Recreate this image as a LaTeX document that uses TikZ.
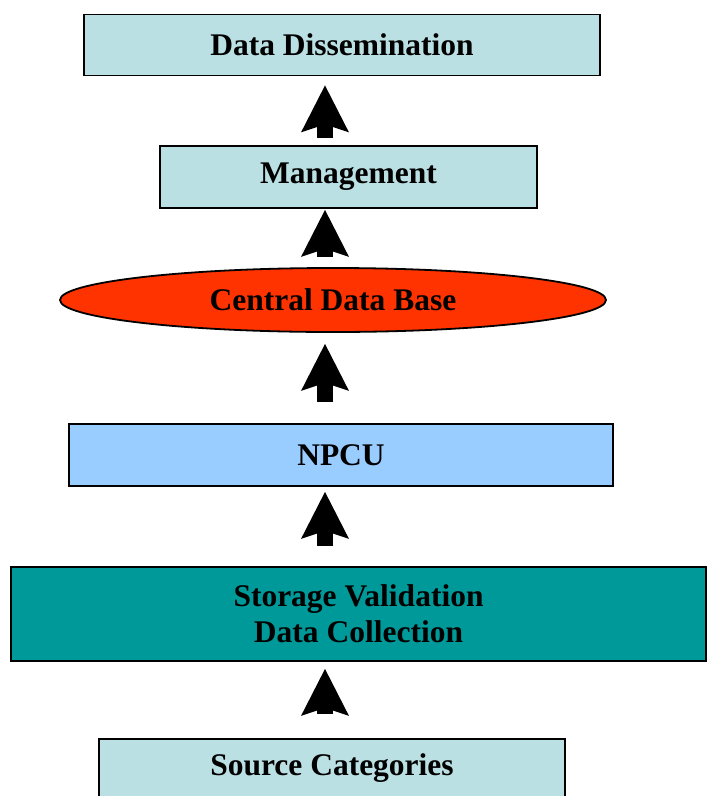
\documentclass[tikz,border=0pt]{standalone}
\usepackage{fontspec}
\setmainfont{Liberation Serif}
\usetikzlibrary{shapes.geometric,arrows.meta}

\definecolor{paleblue}{HTML}{BBE0E3}
\definecolor{skyblue}{HTML}{99CCFF}
\definecolor{tealbox}{HTML}{009999}
\definecolor{redoval}{HTML}{FF3300}

\tikzset{
	label text/.style={font=\fontsize{31.5}{36}\selectfont\bfseries, text=black, align=center},
	level box/.style={draw=black, line width=1.8pt, rectangle, inner sep=0pt, label text},
	level oval/.style={draw=black, line width=1.8pt, ellipse, inner sep=0pt, label text},
	up arrow/.style={line width=16pt, -{Stealth[length=47pt, width=48pt, inset=8pt, line width=0pt]}}}

\begin{document}
\begin{tikzpicture}[x=1pt,y=1pt,yscale=-1,xscale=1]
	\useasboundingbox (0,0) rectangle (707,796);

	%Shape: Rectangle [id:diss]
	\node[level box, fill=paleblue, minimum width=516, minimum height=61] (diss) at (342,45) {Data Dissemination};
	%Shape: Rectangle [id:mgmt]
	\node[level box, fill=paleblue, minimum width=377, minimum height=62] (mgmt) at (348.5,177) {Management};
	%Shape: Ellipse [id:cdb]
	\node[level oval, fill=redoval, minimum width=546, minimum height=64] (cdb) at (333,300) {Central Data Base};
	%Shape: Rectangle [id:npcu]
	\node[level box, fill=skyblue, minimum width=544, minimum height=62] (npcu) at (341,455) {NPCU};
	%Shape: Rectangle [id:store]
	\node[level box, fill=tealbox, minimum width=695, minimum height=94] (store) at (358.5,614) {Storage Validation\\ Data Collection};
	%Shape: Rectangle [id:src]
	\node[level box, fill=paleblue, minimum width=466, minimum height=58] (src) at (332,768) {Source Categories};

	% all arrows sit on one vertical line
	\coordinate (axis) at (325,0);

	%Shape: Block Arrows
	\draw[up arrow, shorten <=7pt, shorten >=9pt] (axis |- mgmt.north) -- (axis |- diss.south);
	\draw[up arrow, shorten <=10pt, shorten >=1pt] (axis |- cdb.north) -- (axis |- mgmt.south);
	\draw[up arrow, shorten <=21pt, shorten >=11pt] (axis |- npcu.north) -- (axis |- cdb.south);
	\draw[up arrow, shorten <=20pt, shorten >=5pt] (axis |- store.north) -- (axis |- npcu.south);
	\draw[up arrow, shorten <=24pt, shorten >=7pt] (axis |- src.north) -- (axis |- store.south);

\end{tikzpicture}
\end{document}
